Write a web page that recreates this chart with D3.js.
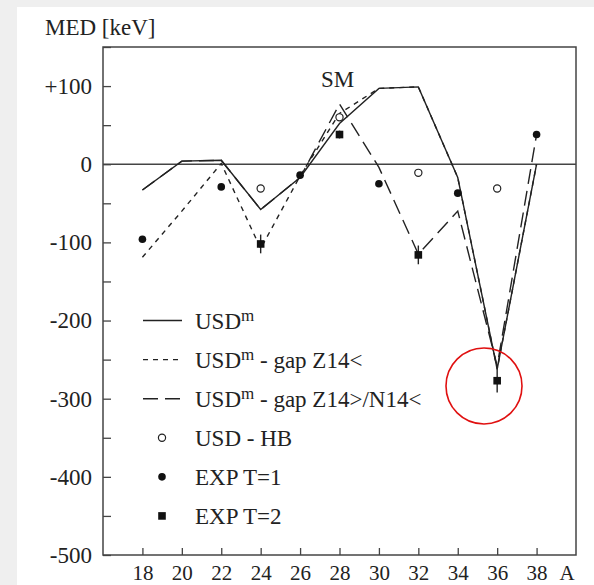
<!DOCTYPE html>
<html>
<head>
<meta charset="utf-8">
<script src="https://cdn.jsdelivr.net/npm/d3@7"></script>
<style>
  body { margin: 0; background: #efefef; }
  svg { display: block; }
  text { font-family: "Liberation Serif", "DejaVu Serif", serif; fill: #222; }
</style>
</head>
<body>
<svg id="med" width="594" height="585"></svg>
<script>
// mass numbers A and calculated MED values (keV)
const massA = [18, 20, 22, 24, 26, 28, 30, 32, 34, 36, 38];
const usdm = [-33, 4, 5, -58, -17, 52, 97, 99, -17, -262, 0];
const usdmGapZ = [-119, -60, 1, -108, -15, 65, 97, 99, -17, -262, 0];
const usdmGapZN = [-33, 4, 5, -58, -17, 77, -4, -115, -60, -258, 38];

// USD - HB (open circles)
const hbA = [24, 28, 32, 36];
const hbMed = [-31, 60, -11, -31];

// experiment T=1 (dots)
const exp1A = [18, 22, 26, 30, 34, 38];
const exp1Med = [-96, -29, -14, -25, -37, 38];

// experiment T=2 (squares with error bars)
const exp2A = [24, 28, 32, 36];
const exp2Med = [-102, 38, -116, -277];
const exp2Err = [12, 5, 12, 15];

const xTicks = [18, 20, 22, 24, 26, 28, 30, 32, 34, 36, 38];
const yTicks = [100, 0, -100, -200, -300, -400, -500];
const yTickLabels = ["+100", "0", "-100", "-200", "-300", "-400", "-500"];

const margin = {top: 47, right: 18, bottom: 30, left: 103};
const width = 594 - margin.left - margin.right;
const height = 585 - margin.top - margin.bottom;
const ink = "#222";
const fontSize = "23px";

const svg = d3.select("svg#med");

// white page, grey strip on top/left
svg.append("rect")
    .attr("x", 17).attr("y", 7)
    .attr("width", 594 - 17).attr("height", 585 - 7)
    .attr("fill", "#fff");

const g = svg.append("g")
    .attr("transform", "translate(" + margin.left + "," + margin.top + ")");

const x = d3.scaleLinear().domain([16, 40]).range([0, width]);
const y = d3.scaleLinear().domain([-500, 150]).range([height, 0]);

// frame
g.append("rect")
    .attr("width", width).attr("height", height)
    .attr("fill", "none")
    .attr("stroke", "#444")
    .attr("stroke-width", 1.5);

// zero line
g.append("line")
    .attr("x1", 0).attr("x2", width)
    .attr("y1", y(0)).attr("y2", y(0))
    .attr("stroke", "#444")
    .attr("stroke-width", 1.5);

// y axis: ticks inward, labels only on hundreds
const yAxis = d3.axisLeft(y)
    .tickValues(d3.range(-500, 151, 50))
    .tickSizeInner(-8)
    .tickSizeOuter(0)
    .tickFormat(d => {
      const i = yTicks.indexOf(d);
      return i < 0 ? "" : yTickLabels[i];
    });

const gy = g.append("g").call(yAxis);
gy.select(".domain").remove();
gy.selectAll(".tick line").attr("stroke", "#444").attr("stroke-width", 1.3);
gy.selectAll(".tick text")
    .attr("x", -11)
    .style("font-family", "Liberation Serif")
    .style("font-size", fontSize)
    .attr("fill", ink);

// x axis: ticks inward
const xAxis = d3.axisBottom(x)
    .tickValues(xTicks)
    .tickSizeInner(-7)
    .tickSizeOuter(0)
    .tickFormat(d3.format("d"));

const gx = g.append("g")
    .attr("transform", "translate(0," + height + ")")
    .call(xAxis);
gx.select(".domain").remove();
gx.selectAll(".tick line").attr("stroke", "#444").attr("stroke-width", 1.3);
gx.selectAll(".tick text")
    .attr("y", 25)
    .attr("dy", null)
    .style("font-family", "Liberation Serif")
    .style("font-size", "21px")
    .attr("fill", ink);

g.append("text")
    .attr("x", width - 9)
    .attr("y", height + 25)
    .attr("text-anchor", "middle")
    .style("font-size", "21px")
    .text("A");

svg.append("text")
    .attr("x", 45)
    .attr("y", 35)
    .style("font-size", fontSize)
    .text("MED [keV]");

g.append("text")
    .attr("x", x(28) - 2)
    .attr("y", 40)
    .attr("text-anchor", "middle")
    .style("font-size", fontSize)
    .text("SM");

// calculated lines
const line = d3.line()
    .x((d, i) => x(massA[i]))
    .y(d => y(d));

const series = [
  {values: usdm, dash: null},
  {values: usdmGapZ, dash: "5,5"},
  {values: usdmGapZN, dash: "15,7"}
];

series.forEach(s => {
  g.append("path")
      .datum(s.values)
      .attr("fill", "none")
      .attr("stroke", ink)
      .attr("stroke-width", 1.4)
      .attr("stroke-dasharray", s.dash)
      .attr("d", line);
});

// USD - HB open circles
g.selectAll("circle.hb")
    .data(hbMed)
    .enter().append("circle")
    .attr("class", "hb")
    .attr("cx", (d, i) => x(hbA[i]))
    .attr("cy", d => y(d))
    .attr("r", 3.6)
    .attr("fill", "#fff")
    .attr("stroke", ink)
    .attr("stroke-width", 1.2);

// EXP T=1 dots
g.selectAll("circle.exp1")
    .data(exp1Med)
    .enter().append("circle")
    .attr("class", "exp1")
    .attr("cx", (d, i) => x(exp1A[i]))
    .attr("cy", d => y(d))
    .attr("r", 3.8)
    .attr("fill", "#111");

// EXP T=2 error bars and squares
g.selectAll("line.err")
    .data(exp2Med)
    .enter().append("line")
    .attr("class", "err")
    .attr("x1", (d, i) => x(exp2A[i]))
    .attr("x2", (d, i) => x(exp2A[i]))
    .attr("y1", (d, i) => y(d + exp2Err[i]))
    .attr("y2", (d, i) => y(d - exp2Err[i]))
    .attr("stroke", ink)
    .attr("stroke-width", 1.4);

g.selectAll("rect.exp2")
    .data(exp2Med)
    .enter().append("rect")
    .attr("class", "exp2")
    .attr("x", (d, i) => x(exp2A[i]) - 3.8)
    .attr("y", d => y(d) - 3.8)
    .attr("width", 7.6)
    .attr("height", 7.6)
    .attr("fill", "#111");

// legend, rows sit on the minor ticks
const legendRows = [
  {label: "", sup: "m", after: "", kind: "line", dash: null},
  {label: "", sup: "m", after: " - gap Z14<", kind: "line", dash: "5,5"},
  {label: "", sup: "m", after: " - gap Z14>/N14<", kind: "line", dash: "15,7"},
  {label: "USD - HB", kind: "open"},
  {label: "EXP T=1", kind: "dot"},
  {label: "EXP T=2", kind: "square"}
];
const legendY = [-200, -250, -300, -350, -400, -450];

legendRows.forEach((r, i) => {
  const ly = y(legendY[i]);
  const row = g.append("g").attr("transform", "translate(0," + ly + ")");
  if (r.kind === "line") {
    row.append("line")
        .attr("x1", 40).attr("x2", 79)
        .attr("stroke", ink)
        .attr("stroke-width", 1.4)
        .attr("stroke-dasharray", r.dash);
  } else if (r.kind === "open") {
    row.append("circle").attr("cx", 59).attr("r", 3.6)
        .attr("fill", "#fff").attr("stroke", ink).attr("stroke-width", 1.2);
  } else if (r.kind === "dot") {
    row.append("circle").attr("cx", 59).attr("r", 3.8).attr("fill", "#111");
  } else {
    row.append("rect").attr("x", 55.2).attr("y", -3.8)
        .attr("width", 7.6).attr("height", 7.6).attr("fill", "#111");
  }
  const t = row.append("text")
      .attr("x", 92)
      .attr("y", 8)
      .style("font-size", fontSize);
  if (r.kind === "line") {
    t.append("tspan").text("USD");
    t.append("tspan").attr("dy", -8).style("font-size", "17px").text(r.sup);
    t.append("tspan").attr("dy", 8).text(r.after);
  } else {
    t.text(r.label);
  }
});

// red highlight circle
svg.append("circle")
    .attr("cx", 484)
    .attr("cy", 386)
    .attr("r", 38)
    .attr("fill", "none")
    .attr("stroke", "#e01010")
    .attr("stroke-width", 1.6);
</script>
</body>
</html>
